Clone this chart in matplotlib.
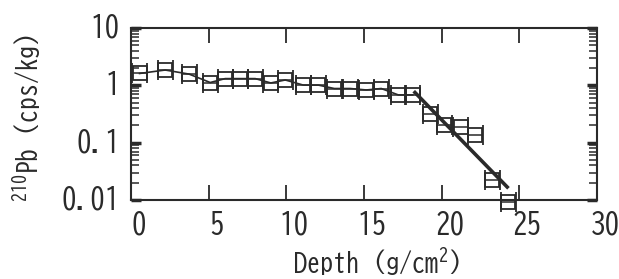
import matplotlib
matplotlib.use('Agg')
import matplotlib.pyplot as plt
from matplotlib.transforms import ScaledTranslation
from matplotlib.ticker import FixedLocator, FixedFormatter, LogLocator, NullFormatter
import numpy as np

# ---- data ----
depth = [0.55, 2.2, 3.74, 5.1, 6.06, 7.03, 8.0, 9.0, 9.93, 11.09, 12.06, 13.09,
         14.12, 15.15, 16.11, 17.21, 18.14, 19.27, 20.17, 21.24, 22.17, 23.27, 24.3]
activity = [1.61, 1.85, 1.57, 1.12, 1.31, 1.31, 1.31, 1.10, 1.24, 1.01, 1.01, 0.88,
            0.88, 0.83, 0.88, 0.68, 0.68, 0.31, 0.207, 0.191, 0.136, 0.0222, 0.0094]
n_connected = 17          # points joined by the thin line
fit_depth = [18.2, 24.3]
fit_activity = [0.79, 0.016]
xticks = [0, 5, 10, 15, 20, 25, 30]
xticklabels = ['0', '5', '10', '15', '20', '25', '30']
yticks = [0.01, 0.1, 1, 10]
yticklabels = ['0.01', '0.1', '1', '10']

INK = '#2a2a2a'
FONTNAME = 'BIZ UDGothic'
plt.rcParams['font.family'] = [FONTNAME, 'IPAGothic', 'DejaVu Sans']
plt.rcParams['mathtext.fontset'] = 'custom'
plt.rcParams['mathtext.rm'] = FONTNAME
plt.rcParams['mathtext.it'] = FONTNAME
plt.rcParams['mathtext.bf'] = FONTNAME
plt.rcParams['text.color'] = INK

W, H = 619, 279
fig = plt.figure(figsize=(W / 100, H / 100), dpi=100)
ax = fig.add_axes([131 / W, 1 - 200 / H, (597 - 131) / W, (200 - 28) / H])
ax.set_yscale('log')
ax.set_xlim(0, 30)
ax.set_ylim(0.01, 10)

# thin connecting line for the upper part
ax.plot(depth[:n_connected], activity[:n_connected], color=INK, lw=1.2, zorder=2)
# thick regression line
ax.plot(fit_depth, fit_activity, color=INK, lw=2.6, solid_capstyle='butt', zorder=3)
# open squares with small x-error caps
ax.errorbar(depth, activity, xerr=0.48, fmt='s', ms=10.6, mfc='none', mec=INK, mew=1.3,
            ecolor=INK, elinewidth=1.1, capsize=7, capthick=1.3, zorder=4, clip_on=False)

for s in ax.spines.values():
    s.set_linewidth(1.5)
    s.set_color(INK)

ax.xaxis.set_major_locator(FixedLocator(xticks))
ax.xaxis.set_major_formatter(FixedFormatter(xticklabels))
ax.yaxis.set_major_locator(FixedLocator(yticks))
ax.yaxis.set_major_formatter(FixedFormatter(yticklabels))
ax.yaxis.set_minor_locator(LogLocator(base=10, subs=np.arange(2, 10)))
ax.yaxis.set_minor_formatter(NullFormatter())

ax.tick_params(axis='x', which='major', direction='in', length=11, width=1.3,
               top=True, bottom=True, colors=INK, labelsize=21, pad=7)
ax.tick_params(axis='y', which='major', direction='in', length=7, width=2.5,
               left=True, right=True, colors=INK, labelsize=21, pad=8)
ax.tick_params(axis='y', which='minor', direction='in', length=6, width=1.1,
               left=True, right=True, colors=INK)

for lab in ax.get_xticklabels():
    lab.set_transform(lab.get_transform() + ScaledTranslation(8 / 100, 0, fig.dpi_scale_trans))
for lab in ax.get_yticklabels():
    lab.set_transform(lab.get_transform() + ScaledTranslation(0, 3 / 100, fig.dpi_scale_trans))

fig.text(376 / W, 1 - 273 / H, r'Depth (g/cm$^{2}$)', ha='center', va='baseline', fontsize=19)
fig.text(27 / W, 1 - 118 / H, r'$^{210}$Pb (cps/kg)', ha='center', va='center',
         rotation=90, fontsize=18.5)

fig.savefig('out.png', dpi=100)
